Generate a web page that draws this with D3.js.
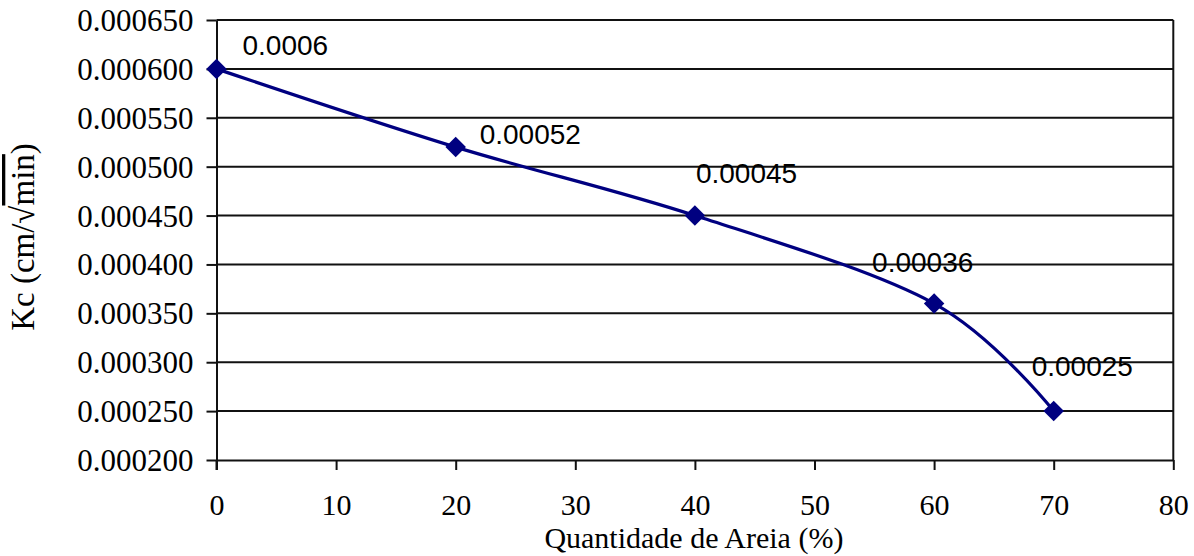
<!DOCTYPE html>
<html>
<head>
<meta charset="utf-8">
<script src="https://cdn.jsdelivr.net/npm/d3@7"></script>
<style>
  html, body { margin: 0; padding: 0; background: #fff; }
  svg { display: block; }
</style>
</head>
<body>
<svg id="chart" width="1194" height="556"></svg>
<script>
// Sand content (%) against the Kc coefficient
const sandPercent = [0, 20, 40, 60, 70];
const kcValues = [0.0006, 0.00052, 0.00045, 0.00036, 0.00025];
const kcLabels = ["0.0006", "0.00052", "0.00045", "0.00036", "0.00025"];
const xTicks = [0, 10, 20, 30, 40, 50, 60, 70, 80];
const yTicks = [0.0002, 0.00025, 0.0003, 0.00035, 0.0004, 0.00045, 0.0005, 0.00055, 0.0006, 0.00065];

// Hand-placed label offsets (left edge / baseline relative to each point)
const labelOffsets = [[26, -14], [24, -3], [1, -33], [-62, -32], [-22, -35]];

const svg = d3.select("#chart");
const W = 1194, H = 556;
const m = { left: 216.5, right: W - 1173.3, top: 20, bottom: H - 460 };

svg.append("rect").attr("width", W).attr("height", H).attr("fill", "#fff");

const x = d3.scaleLinear().domain([0, 80]).range([m.left, W - m.right]);
const y = d3.scaleLinear().domain([0.0002, 0.00065]).range([H - m.bottom, m.top]);

const serif = "'Liberation Serif', 'Times New Roman', serif";
const sans = "'Liberation Sans', Arial, sans-serif";

// Horizontal gridlines
svg.append("g")
  .selectAll("line")
  .data(yTicks.slice(1))
  .join("line")
  .attr("x1", x(0)).attr("x2", x(80))
  .attr("y1", d => y(d)).attr("y2", d => y(d))
  .attr("stroke", "#111").attr("stroke-width", 2);

// Right border
svg.append("line")
  .attr("x1", x(80)).attr("x2", x(80))
  .attr("y1", y(0.00065)).attr("y2", y(0.0002))
  .attr("stroke", "#111").attr("stroke-width", 2);

// Y axis
const yAxis = d3.axisLeft(y)
  .tickValues(yTicks)
  .tickFormat(d3.format(".6f"))
  .tickSizeInner(10).tickSizeOuter(0).tickPadding(13);
const gy = svg.append("g").attr("transform", `translate(${x(0)},0)`).call(yAxis);
gy.select(".domain").attr("stroke", "#111").attr("stroke-width", 2);
gy.selectAll(".tick line").attr("stroke", "#111").attr("stroke-width", 2);
gy.selectAll(".tick text")
  .attr("font-family", serif).attr("font-size", 31).attr("fill", "#000")
  .attr("dy", "0.34em");

// X axis
const xAxis = d3.axisBottom(x)
  .tickValues(xTicks)
  .tickFormat(d3.format("d"))
  .tickSizeInner(10).tickSizeOuter(0).tickPadding(24);
const gx = svg.append("g").attr("transform", `translate(0,${y(0.0002)})`).call(xAxis);
gx.select(".domain").attr("stroke", "#111").attr("stroke-width", 2);
gx.selectAll(".tick line").attr("stroke", "#111").attr("stroke-width", 2);
gx.selectAll(".tick text")
  .attr("font-family", serif).attr("font-size", 30).attr("fill", "#000");
// extend the y axis line down to the x tick length
svg.append("line")
  .attr("x1", x(0)).attr("x2", x(0))
  .attr("y1", y(0.0002)).attr("y2", y(0.0002) + 10)
  .attr("stroke", "#111").attr("stroke-width", 2);

// Smoothed series line
const pts = sandPercent.map((s, i) => [s, kcValues[i]]);
const line = d3.line()
  .x(d => x(d[0])).y(d => y(d[1]))
  .curve(d3.curveCatmullRom.alpha(0));
svg.append("path")
  .datum(pts)
  .attr("d", line)
  .attr("fill", "none")
  .attr("stroke", "#000080")
  .attr("stroke-width", 3.2);

// Diamond markers
svg.append("g")
  .selectAll("path")
  .data(pts)
  .join("path")
  .attr("transform", d => `translate(${x(d[0])},${y(d[1])}) rotate(45)`)
  .attr("d", d3.symbol().type(d3.symbolSquare).size(210))
  .attr("fill", "#000080");

// Value labels
svg.append("g")
  .selectAll("text")
  .data(pts)
  .join("text")
  .attr("x", (d, i) => x(d[0]) + labelOffsets[i][0])
  .attr("y", (d, i) => y(d[1]) + labelOffsets[i][1])
  .attr("font-family", sans).attr("font-size", 28).attr("fill", "#000")
  .text((d, i) => kcLabels[i]);

// Axis titles
svg.append("text")
  .attr("x", (x(0) + x(80)) / 2 - 1).attr("y", 548)
  .attr("text-anchor", "middle")
  .attr("font-family", serif).attr("font-size", 30).attr("fill", "#000")
  .text("Quantidade de Areia (%)");

const yTitle = svg.append("text")
  .attr("transform", "translate(34,237) rotate(-90)")
  .attr("text-anchor", "middle")
  .attr("font-family", serif).attr("font-size", 33).attr("fill", "#000");
yTitle.append("tspan").text("Kc (cm/√");
yTitle.append("tspan").style("text-decoration", "overline").text("min");
yTitle.append("tspan").text(")");
</script>
</body>
</html>
